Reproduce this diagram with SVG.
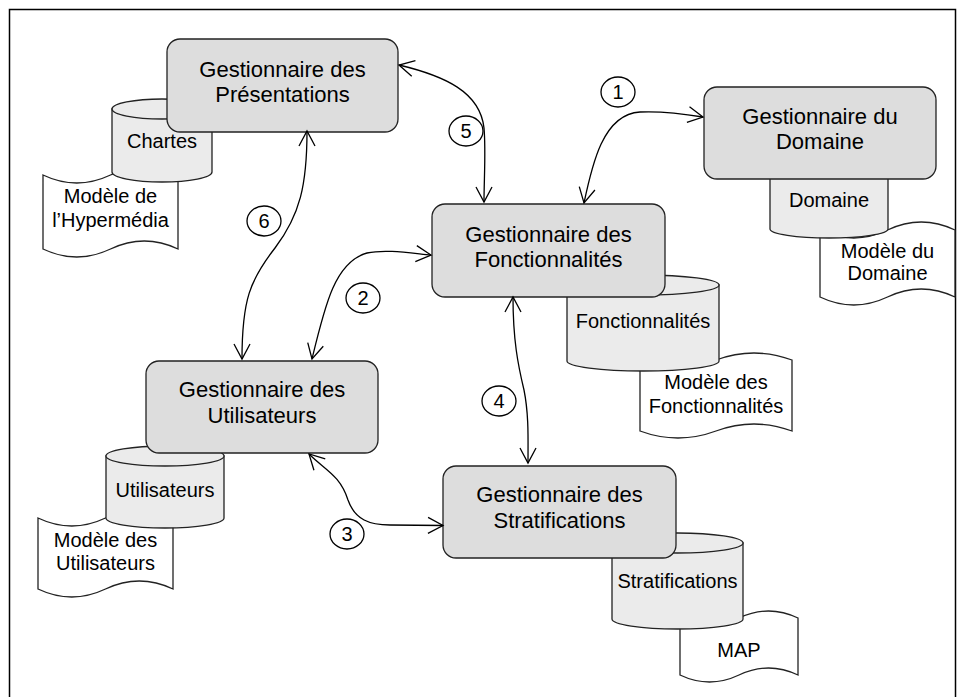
<svg xmlns="http://www.w3.org/2000/svg" width="965" height="697" viewBox="0 0 965 697">
<style>
text{font-family:"Liberation Sans",Arial,sans-serif;fill:#000;text-anchor:middle}
.box{fill:#dddddd;stroke:#222;stroke-width:1.3}
.btxt{font-size:22px}
.cyl{fill:#ebebeb;stroke:#222;stroke-width:1.3}
.doc{fill:#fff;stroke:#222;stroke-width:1.3}
.txt{font-size:20px}
.con{fill:none;stroke:#000;stroke-width:1.3;marker-start:url(#arr);marker-end:url(#arr)}
.num{fill:#fff;stroke:#000;stroke-width:1.3}
</style>
<defs>
<marker id="arr" markerUnits="userSpaceOnUse" markerWidth="20" markerHeight="20" viewBox="-17 -10 20 20" refX="0" refY="0" orient="auto-start-reverse">
<path d="M-15,-8 L0,0 L-15,8" fill="none" stroke="#000" stroke-width="1.3"/>
</marker>
</defs>
<rect x="9.5" y="9.5" width="946" height="700" fill="#fff" stroke="#000" stroke-width="1.5"/>

<g id="doc-hypermedia">
<path class="doc" d="M43,175 Q76.75,191 110.5,175 T178,175 L178,249 Q144.25,233 110.5,249 T43,249 Z"/>
<text class="txt" x="110.5" y="203">Modèle de</text>
<text class="txt" x="110.5" y="227">l’Hypermédia</text>
</g>
<g id="doc-utilisateurs">
<path class="doc" d="M38,518 Q71.75,534 105.5,518 T173,518 L173,589 Q139.25,573 105.5,589 T38,589 Z"/>
<text class="txt" x="105.5" y="547">Modèle des</text>
<text class="txt" x="105.5" y="570">Utilisateurs</text>
</g>
<g id="doc-domaine">
<path class="doc" d="M820,230 Q853.75,246 887.5,230 T955,230 L955,297 Q921.25,281 887.5,297 T820,297 Z"/>
<text class="txt" x="887.5" y="258">Modèle du</text>
<text class="txt" x="887.5" y="280">Domaine</text>
</g>
<g id="doc-fonctionnalites">
<path class="doc" d="M640,360 Q678,374 716,360 T792,360 L792,431 Q754,417 716,431 T640,431 Z"/>
<text class="txt" x="716" y="389">Modèle des</text>
<text class="txt" x="716" y="413">Fonctionnalités</text>
</g>
<g id="doc-map">
<path class="doc" d="M680,618 Q709.5,632 739,618 T798,618 L798,675 Q768.5,661 739,675 T680,675 Z"/>
<text class="txt" x="739" y="657">MAP</text>
</g>

<g id="cyl-chartes">
<path class="cyl" d="M112,109 L112,172 A50,10 0 0 0 212,172 L212,109 Z"/>
<ellipse class="cyl" cx="162" cy="109" rx="50" ry="10"/>
<text class="txt" x="162" y="148">Chartes</text>
</g>
<g id="cyl-utilisateurs">
<path class="cyl" d="M106,456 L106,518 A59,10 0 0 0 224,518 L224,456 Z"/>
<ellipse class="cyl" cx="165" cy="456" rx="59" ry="10"/>
<text class="txt" x="165" y="497">Utilisateurs</text>
</g>
<g id="cyl-domaine">
<path class="cyl" d="M770,160 L770,229 A59,9 0 0 0 888,229 L888,160 Z"/>
<text class="txt" x="829" y="207">Domaine</text>
</g>
<g id="cyl-fonctionnalites">
<path class="cyl" d="M567,285 L567,361 A76,10 0 0 0 719,361 L719,285 Z"/>
<ellipse class="cyl" cx="643" cy="285" rx="76" ry="10"/>
<text class="txt" x="643" y="328">Fonctionnalités</text>
</g>
<g id="cyl-stratifications">
<path class="cyl" d="M612,543 L612,619 A65.5,10 0 0 0 743,619 L743,543 Z"/>
<ellipse class="cyl" cx="677.5" cy="543" rx="65.5" ry="10"/>
<text class="txt" x="677.5" y="588">Stratifications</text>
</g>

<g id="gest-presentations">
<rect class="box" x="167" y="39" width="231" height="93" rx="13"/>
<text class="btxt" x="282.5" y="77">Gestionnaire des</text>
<text class="btxt" x="282.5" y="102">Présentations</text>
</g>
<g id="gest-domaine">
<rect class="box" x="704" y="87" width="232" height="92" rx="13"/>
<text class="btxt" x="820" y="124">Gestionnaire du</text>
<text class="btxt" x="820" y="149">Domaine</text>
</g>
<g id="gest-fonctionnalites">
<rect class="box" x="432" y="204" width="233" height="93" rx="13"/>
<text class="btxt" x="548.5" y="242">Gestionnaire des</text>
<text class="btxt" x="548.5" y="267">Fonctionnalités</text>
</g>
<g id="gest-utilisateurs">
<rect class="box" x="146" y="361" width="232" height="92" rx="13"/>
<text class="btxt" x="262" y="397">Gestionnaire des</text>
<text class="btxt" x="262" y="423">Utilisateurs</text>
</g>
<g id="gest-stratifications">
<rect class="box" x="443" y="466" width="233" height="92" rx="13"/>
<text class="btxt" x="559.5" y="502">Gestionnaire des</text>
<text class="btxt" x="559.5" y="528">Stratifications</text>
</g>

<g id="connectors">
<path class="con" d="M584,203 C592,165 603,114 640,112 C662,111 685,114 703,117"/>
<path class="con" d="M399,65 C445,76 480,92 484,128 C486,150 484,180 484,202"/>
<path class="con" d="M307,131 C307,185 300,215 275,248 C250,280 242,300 242,359"/>
<path class="con" d="M312,359 C325,305 335,262 367,253 C385,249 410,253 431,255"/>
<path class="con" d="M513,297 C513,340 518,365 524,390 C529,415 528,440 528,463"/>
<path class="con" d="M309,454 C325,470 340,475 348,500 C355,520 370,525 390,525 L443,525.5"/>
</g>

<g id="labels">
<ellipse class="num" cx="618" cy="92" rx="17" ry="15"/><text class="txt" x="618" y="99">1</text>
<ellipse class="num" cx="363" cy="298" rx="17" ry="15"/><text class="txt" x="363" y="305">2</text>
<ellipse class="num" cx="347" cy="534" rx="17" ry="15"/><text class="txt" x="347" y="541">3</text>
<ellipse class="num" cx="499" cy="401" rx="17" ry="15"/><text class="txt" x="499" y="408">4</text>
<ellipse class="num" cx="466" cy="131" rx="17" ry="15"/><text class="txt" x="466" y="138">5</text>
<ellipse class="num" cx="264" cy="221" rx="17" ry="15"/><text class="txt" x="264" y="228">6</text>
</g>
</svg>
